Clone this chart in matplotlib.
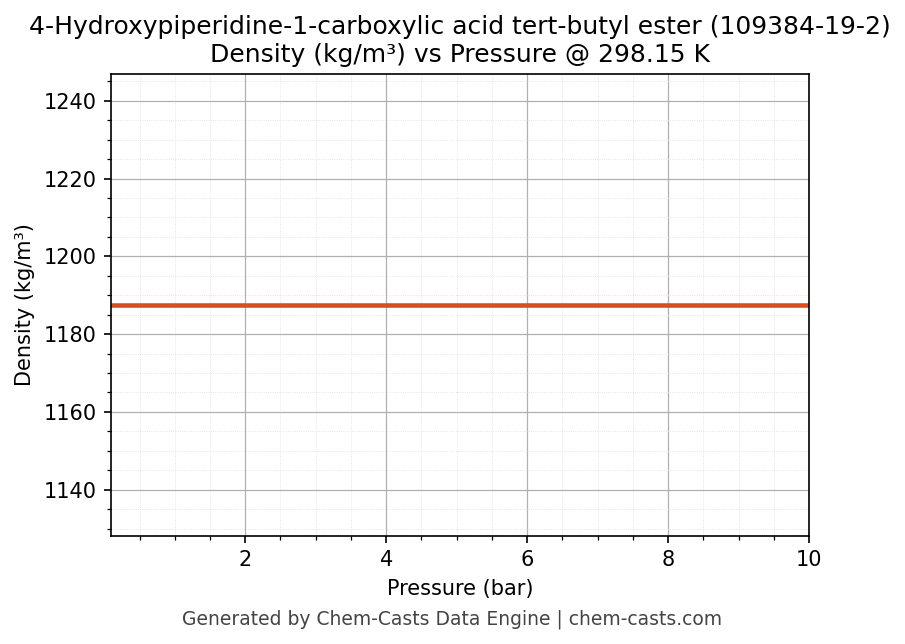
import matplotlib
matplotlib.use("Agg")
import matplotlib.pyplot as plt
import numpy as np

pressure = [0.1, 1.0, 2.0, 3.0, 4.0, 5.0, 6.0, 7.0, 8.0, 9.0, 10.0]
density = [1187.5] * len(pressure)

fig, ax = plt.subplots(figsize=(905/150, 644/150), dpi=150)
ax.plot(pressure, density, color="#d64f1f", linewidth=2.2)
ax.set_xlim(0.1, 10)
ax.set_ylim(1187.5 - 59.375, 1187.5 + 59.375)
ax.minorticks_on()
ax.grid(which="major", color="#b0b0b0", linewidth=0.6)
ax.grid(which="minor", color="#dddddd", linewidth=0.4, linestyle=":")
ax.set_xlabel("Pressure (bar)")
ax.set_ylabel("Density (kg/m³)")
ax.set_title("4-Hydroxypiperidine-1-carboxylic acid tert-butyl ester (109384-19-2)\nDensity (kg/m³) vs Pressure @ 298.15 K", fontsize=12)
fig.subplots_adjust(left=0.123, right=0.894, top=0.885, bottom=0.168)
fig.text(0.5, 0.03, "Generated by Chem-Casts Data Engine | chem-casts.com", ha="center", fontsize=9, color="#444444")
fig.savefig("out.png", dpi=150)
